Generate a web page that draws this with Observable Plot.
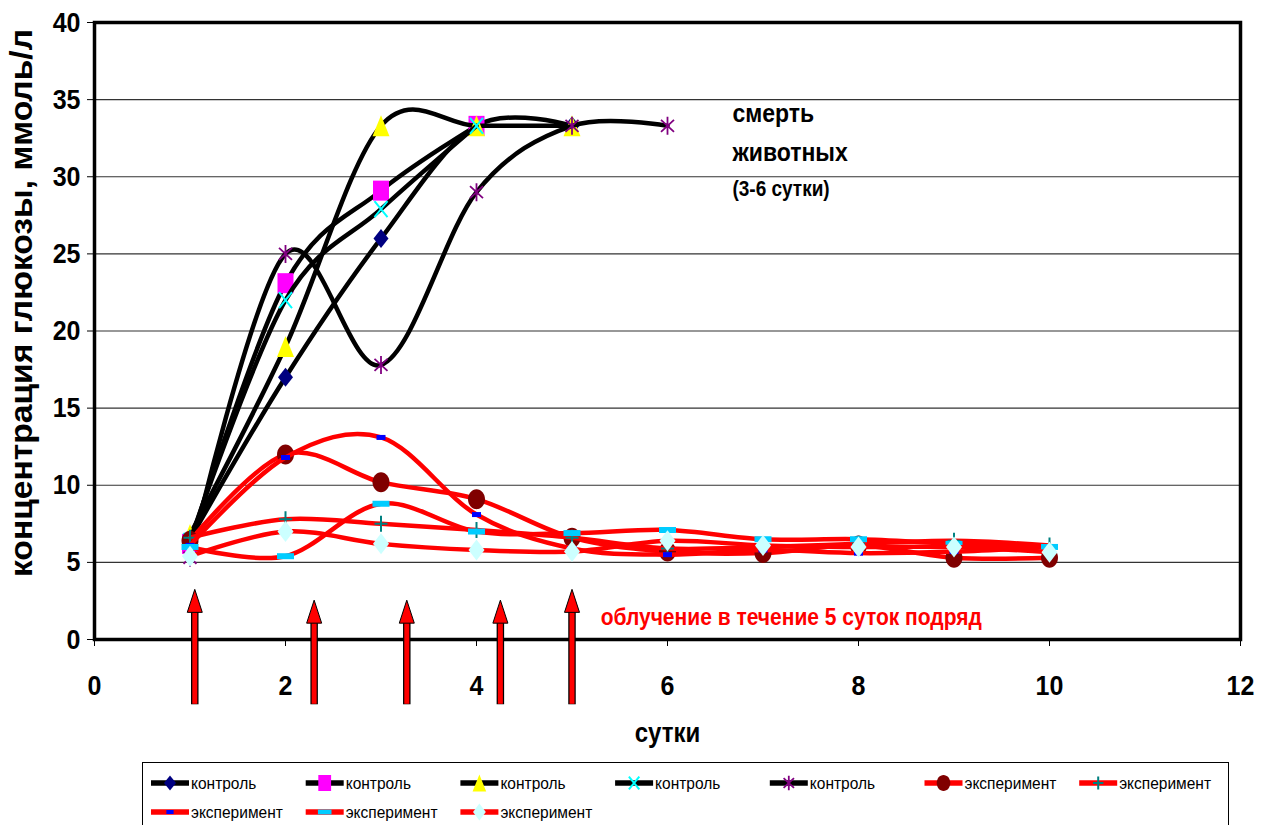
<!DOCTYPE html>
<html><head><meta charset="utf-8">
<script src="https://cdn.jsdelivr.net/npm/d3@7"></script>
<script src="https://cdn.jsdelivr.net/npm/@observablehq/plot@0.6"></script>
<style>
body{margin:0;background:#fff;font-family:"Liberation Sans",Arial,sans-serif;}
#wrap{position:relative;width:1265px;height:825px;overflow:hidden;}
#chart{position:absolute;left:0;top:0;}
#legend{position:absolute;left:142px;top:762px;width:1087px;height:90px;border:1px solid #000;box-sizing:border-box;background:#fff;}
</style></head><body><div id="wrap"><div id="chart"></div><div id="legend"></div></div>
<script>
// ---- data ----
const days = [1, 2, 3, 4, 5, 6, 7, 8, 9, 10];
const xTicks = [0, 2, 4, 6, 8, 10, 12];
const yTicks = [0, 5, 10, 15, 20, 25, 30, 35, 40];
const control1 = [6.5, 17.0, 26.0, 33.3, 33.3];          // diamond
const control2 = [6.2, 23.1, 29.1, 33.3];                // square
const control3 = [6.8, 19.0, 33.3, 33.3, 33.3];          // triangle
const control4 = [6.4, 22.0, 27.9, 33.3];                // x
const control5 = [5.3, 25.0, 17.8, 29.0, 33.3, 33.3];    // asterisk
const exp1 = [6.4, 12.0, 10.2, 9.1, 6.6, 5.7, 5.6, 6.1, 5.3, 5.3];   // circle
const exp2 = [6.6, 7.8, 7.5, 7.1, 6.6, 5.9, 6.0, 6.2, 6.4, 6.1];     // plus
const exp3 = [6.1, 11.8, 13.1, 8.1, 5.9, 5.5, 5.8, 5.6, 5.7, 6.0];   // blue dash
const exp4 = [6.0, 5.4, 8.8, 7.0, 6.9, 7.1, 6.5, 6.5, 6.2, 6.0];     // sky dash
const exp5 = [5.4, 7.0, 6.2, 5.8, 5.7, 6.4, 6.1, 6.0, 6.0, 5.65];    // light diamond
const controlName = "контроль";
const expName = "эксперимент";
const arrowDays = [1.05, 2.3, 3.27, 4.25, 5.0];
const arrowTops = [3.25, 2.55, 2.55, 2.55, 3.25];
const arrowBottom = -4.2;
const yLabel = "концентрация глюкозы, ммоль/л";
const xLabel = "сутки";
const deathLines = ["смерть", "животных"];
const deathNote = "(3-6 сутки)";
const irradiationNote = "облучение в течение 5 суток подряд";

// ---- symbols ----
function poly(points) {
  return {draw(ctx) {
    ctx.moveTo(points[0][0], points[0][1]);
    for (const p of points.slice(1)) ctx.lineTo(p[0], p[1]);
    ctx.closePath();
  }};
}
const symDiamond = (w, h) => poly([[0, -h / 2], [w / 2, 0], [0, h / 2], [-w / 2, 0]]);
const symRect = (w, h) => poly([[-w / 2, -h / 2], [w / 2, -h / 2], [w / 2, h / 2], [-w / 2, h / 2]]);
const symTri = (w, h) => poly([[0, -h / 2], [w / 2, h / 2], [-w / 2, h / 2]]);
const symEllipse = (w, h) => ({draw(ctx) {
  const a = w / 2, b = h / 2, k = 0.5523;
  ctx.moveTo(a, 0);
  ctx.bezierCurveTo(a, k * b, k * a, b, 0, b);
  ctx.bezierCurveTo(-k * a, b, -a, k * b, -a, 0);
  ctx.bezierCurveTo(-a, -k * b, -k * a, -b, 0, -b);
  ctx.bezierCurveTo(k * a, -b, a, -k * b, a, 0);
  ctx.closePath();
}});
const symTimes = (w, h) => ({draw(ctx) {
  ctx.moveTo(-w / 2, -h / 2); ctx.lineTo(w / 2, h / 2);
  ctx.moveTo(w / 2, -h / 2); ctx.lineTo(-w / 2, h / 2);
}});
const symPlus = (w, h) => ({draw(ctx) {
  ctx.moveTo(-w / 2, 0); ctx.lineTo(w / 2, 0);
  ctx.moveTo(0, -h / 2); ctx.lineTo(0, h / 2);
}});
const symAsterisk = (w, h) => ({draw(ctx) {
  ctx.moveTo(-w / 2, -h / 2 + 3); ctx.lineTo(w / 2, h / 2 - 3);
  ctx.moveTo(w / 2, -h / 2 + 3); ctx.lineTo(-w / 2, h / 2 - 3);
  ctx.moveTo(0, -h / 2); ctx.lineTo(0, h / 2);
}});
const arrowHead = {draw(ctx) {
  ctx.moveTo(0, 0); ctx.lineTo(7.5, 23); ctx.lineTo(-7.5, 23); ctx.closePath();
}};

// ---- series styles ----
const series = [
  {name: controlName, values: control1, line: "#000", sym: symDiamond(15, 19), fill: "#000080", stroke: "none", sw: 0},
  {name: controlName, values: control2, line: "#000", sym: symRect(16, 20), fill: "#FF00FF", stroke: "none", sw: 0},
  {name: controlName, values: control3, line: "#000", sym: symTri(17, 21), fill: "#FFFF00", stroke: "none", sw: 0},
  {name: controlName, values: control4, line: "#000", sym: symTimes(13, 16), fill: "none", stroke: "#00FFFF", sw: 2},
  {name: controlName, values: control5, line: "#000", sym: symAsterisk(13, 18), fill: "none", stroke: "#800080", sw: 1.8},
  {name: expName, values: exp1, line: "#FF0000", sym: symEllipse(17, 20), fill: "#800000", stroke: "none", sw: 0},
  {name: expName, values: exp2, line: "#FF0000", sym: symPlus(13, 16), fill: "none", stroke: "#008080", sw: 2},
  {name: expName, values: exp3, line: "#FF0000", sym: symRect(9, 5), fill: "#0000FF", stroke: "none", sw: 0},
  {name: expName, values: exp4, line: "#FF0000", sym: symRect(17, 6), fill: "#00CCFF", stroke: "none", sw: 0},
  {name: expName, values: exp5, line: "#FF0000", sym: symDiamond(16, 21), fill: "#CCFFFF", stroke: "none", sw: 0}
];

const seriesMarks = series.flatMap((s) => {
  const rows = s.values.map((v, j) => ({day: days[j], value: v}));
  return [
    Plot.line(rows, {x: "day", y: "value", stroke: s.line, strokeWidth: 4.5, curve: "cardinal", strokeLinejoin: "round", strokeLinecap: "round"}),
    Plot.dot(rows, {x: "day", y: "value", symbol: s.sym, r: 6, fill: s.fill, stroke: s.stroke, strokeWidth: s.sw})
  ];
});

const arrows = arrowDays.map((d, i) => ({day: d, top: arrowTops[i], bottom: arrowBottom}));

const chart = Plot.plot({
  width: 1265,
  height: 755,
  marginLeft: 94,
  marginRight: 25,
  marginTop: 22,
  marginBottom: 116,
  style: {fontFamily: "'Liberation Sans', Arial, sans-serif", fontSize: "25px", fontWeight: "bold", color: "#000", background: "#fff"},
  x: {domain: [0, 12], axis: null},
  y: {domain: [0, 40], axis: null},
  marks: [
    Plot.ruleY(yTicks.slice(1, -1), {stroke: "#333", strokeWidth: 1.2}),
    Plot.axisY({ticks: yTicks, tickSize: 7, tickPadding: 7, label: null, tickFormat: d => d, fontSize: 25, fontWeight: "bold"}),
    Plot.axisX({ticks: xTicks, tickSize: 7, tickPadding: 28, label: null, tickFormat: d => d, fontSize: 25, fontWeight: "bold"}),
    ...seriesMarks,
    Plot.frame({stroke: "#000", strokeWidth: 3.5}),
    Plot.link(arrows, {x1: "day", x2: "day", y1: "bottom", y2: (d) => d.top - 1.0, stroke: "#000", strokeWidth: 7.5}),
    Plot.link(arrows, {x1: "day", x2: "day", y1: (d) => d.bottom + 0.03, y2: (d) => d.top - 1.0, stroke: "#FF0000", strokeWidth: 5}),
    Plot.dot(arrows, {x: "day", y: "top", symbol: arrowHead, r: 6, fill: "#FF0000", stroke: "#000", strokeWidth: 1}),
    Plot.text(deathLines, {x: 6.68, y: (d, i) => [34.1, 31.55][i], text: (d) => d, textAnchor: "start", lineAnchor: "middle", fontSize: 23, fontWeight: "bold"}),
    Plot.text([deathNote], {x: 6.68, y: 29.2, text: (d) => d, textAnchor: "start", lineAnchor: "middle", fontSize: 19, fontWeight: "bold"}),
    Plot.text([irradiationNote], {x: 5.3, y: 1.4, text: (d) => d, textAnchor: "start", lineAnchor: "middle", fontSize: 21, fontWeight: "bold", fill: "#FF0000"}),
    Plot.text([yLabel], {frameAnchor: "left", dx: -72, dy: -28, rotate: -90, text: (d) => d, textAnchor: "middle", lineAnchor: "middle", fontSize: 27, fontWeight: "bold"}),
    Plot.text([xLabel], {frameAnchor: "bottom", dy: 94, text: (d) => d, textAnchor: "middle", lineAnchor: "middle", fontSize: 24, fontWeight: "bold"})
  ]
});
document.getElementById("chart").appendChild(chart);

// ---- legend ----
const lg = d3.select("#legend").append("svg").attr("width", 1085).attr("height", 88)
  .style("font-family", "'Liberation Sans', Arial, sans-serif");
series.forEach((s, i) => {
  const row = i < 7 ? 0 : 1;
  const col = i < 7 ? i : i - 7;
  const x = 8 + col * 154.7;
  const y = row === 0 ? 20 : 49;
  const g = lg.append("g").attr("transform", `translate(${x},${y})`);
  g.append("line").attr("x1", 0).attr("x2", 38).attr("y1", 0).attr("y2", 0)
    .attr("stroke", s.line).attr("stroke-width", 5.5);
  g.append("path").attr("transform", "translate(19,0) scale(0.8)")
    .attr("d", d3.symbol(s.sym)())
    .attr("fill", s.fill).attr("stroke", s.stroke).attr("stroke-width", s.sw / 0.8);
  g.append("text").attr("x", 40).attr("y", 0).attr("dy", "0.35em")
    .attr("font-size", 15.5).text(s.name);
});

// ---- reference text is tall and narrow: enlarge glyph height, keep width ----
function condense(root, factor) {
  root.querySelectorAll("text").forEach((t) => {
    const fs = parseFloat(getComputedStyle(t).fontSize);
    const len = t.getComputedTextLength();
    const target = t.textContent === yLabel ? 548 : len;
    t.style.fontSize = (fs * factor) + "px";
    t.setAttribute("textLength", target);
    t.setAttribute("lengthAdjust", "spacingAndGlyphs");
  });
}
condense(chart, 1.13);
condense(document.querySelector("#legend svg"), 1.12);
</script></body></html>
